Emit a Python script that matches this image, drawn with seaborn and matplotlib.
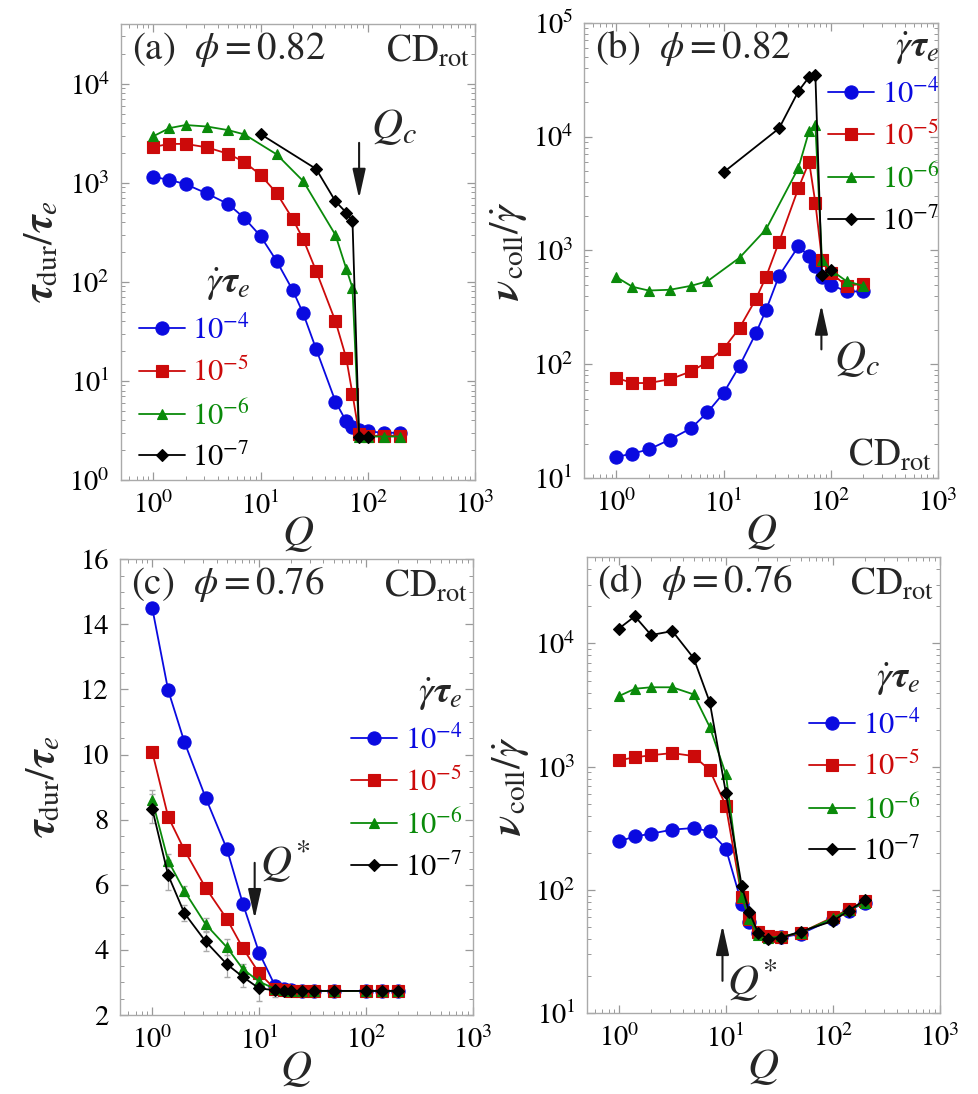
import numpy as np
import pandas as pd
import matplotlib
matplotlib.use("Agg")
import matplotlib.pyplot as plt
import matplotlib.ticker as mticker
import seaborn as sns

# ---------------- data ----------------
rates = [r"$10^{-4}$", r"$10^{-5}$", r"$10^{-6}$", r"$10^{-7}$"]

# phi = 0.82 (panels a, b)
Q_ab = [1, 1.41, 2, 3.16, 5, 7.07, 10, 14.1, 20, 25, 33, 50, 63, 72, 83, 100, 141, 200]
Q_ab_g = [1, 1.41, 2, 3.16, 5, 7.07, 14.1, 25, 50, 63, 72, 83, 100, 141, 200]
Q_ab_k = [10, 33, 50, 63, 72, 83, 100]

tau_a_4 = [1150, 1070, 970, 780, 610, 440, 290, 163, 82, 48, 21, 6.2, 3.9, 3.4, 3.2, 3.1, 3.0, 3.0]
tau_a_5 = [2300, 2470, 2470, 2280, 1960, 1620, 1200, 790, 430, 270, 129, 40, 17, 7.4, 2.9, 2.8, 2.8, 2.8]
tau_a_6 = [2950, 3560, 3830, 3700, 3400, 3080, 1940, 1040, 297, 136, 87, 2.75, 2.75, 2.75, 2.75]
tau_a_7 = [3100, 1380, 650, 500, 415, 2.75, 2.75]

nu_b_4 = [15.4, 16.5, 17.9, 21.9, 27.6, 37.9, 56, 97, 187, 302, 600, 1085, 890, 730, 590, 500, 437, 437]
nu_b_5 = [76, 68.6, 68.6, 74, 87, 105, 137, 209, 373, 590, 1190, 3520, 6000, 2620, 830, 635, 490, 510]
nu_b_6 = [583, 480, 445, 452, 490, 537, 863, 1540, 5300, 11200, 12700, 830, 676, 537, 490]
nu_b_7 = [4860, 11800, 25000, 33400, 35000, 605, 676]

# phi = 0.76 (panels c, d)
Q_c = [1, 1.41, 2, 3.16, 5, 7.07, 10, 14.1, 17, 20, 25, 33, 50, 100, 141, 200]
Q_d = [1, 1.41, 2, 3.16, 5, 7.07, 10, 14.1, 16.6, 20, 25, 33, 50, 100, 141, 200]

tau_c_4 = [14.51, 11.98, 10.39, 8.68, 7.10, 5.41, 3.92, 2.90, 2.80, 2.77, 2.75, 2.74, 2.74, 2.74, 2.74, 2.74]
tau_c_5 = [10.09, 8.09, 7.07, 5.91, 4.95, 4.05, 3.29, 2.80, 2.77, 2.75, 2.74, 2.74, 2.74, 2.74, 2.74, 2.74]
tau_c_6 = [8.61, 6.74, 5.81, 4.79, 4.08, 3.41, 3.03, 2.80, 2.76, 2.75, 2.74, 2.74, 2.74, 2.74, 2.74, 2.74]
tau_c_7 = [8.34, 6.30, 5.13, 4.26, 3.56, 3.17, 2.82, 2.76, 2.75, 2.74, 2.74, 2.74, 2.74, 2.74, 2.74, 2.74]
err_c_6 = [0.30, 0.20, 0.15, 0.20, 0.25, 0.15, 0.15, 0.10, 0.05, 0.05, 0.05, 0.05, 0.05, 0.05, 0.05, 0.05]
err_c_7 = [0.45, 0.45, 0.25, 0.30, 0.40, 0.30, 0.40, 0.20, 0.10, 0.05, 0.05, 0.05, 0.05, 0.05, 0.05, 0.05]

nu_d_4 = [248, 272, 286, 309, 318, 299, 217, 77, 55, 44.5, 41.3, 41.3, 44, 58, 68, 79]
nu_d_5 = [1130, 1190, 1240, 1290, 1220, 940, 482, 87, 58.6, 45.3, 42, 41.3, 45, 60, 70, 81]
nu_d_6 = [3740, 4290, 4410, 4410, 3860, 2100, 870, 87, 58, 43, 41, 42, 45, 59, 69, 79]
nu_d_7 = [13200, 16600, 11700, 12600, 7600, 3340, 617, 107, 66, 45, 40, 41, 46, 56, 68, 83]

# ---------------- style ----------------
sns.set_theme(style="ticks")
plt.rcParams.update({
    "font.family": ["STIXGeneral", "DejaVu Serif"],
    "mathtext.fontset": "stix",
    "axes.edgecolor": "#aaaaaa",
    "axes.linewidth": 1.0,
    "xtick.color": "#999999",
    "ytick.color": "#999999",
    "xtick.labelcolor": "black",
    "ytick.labelcolor": "black",
})

colors = ["#0a0ae0", "#cc0a0a", "#0a8a0a", "black"]
markers = ["o", "s", "^", "D"]
msizes = [9.5, 8.5, 7, 6]

fig = plt.figure(figsize=(9.79, 10.94), dpi=100)
axA = fig.add_axes([0.1236, 0.5612, 0.3616, 0.4168])
axB = fig.add_axes([0.5968, 0.5628, 0.3610, 0.4165])
axC = fig.add_axes([0.1226, 0.0722, 0.3603, 0.4166])
axD = fig.add_axes([0.5993, 0.0738, 0.3606, 0.4168])

ARROW = dict(arrowstyle="-|>,head_length=0.9,head_width=0.2", color="k", lw=1.5, mutation_scale=20)


def style_axes(ax, logy=True):
    ax.set_xscale("log")
    if logy:
        ax.set_yscale("log")
        ax.yaxis.set_major_locator(mticker.LogLocator(base=10, numticks=10))
        ax.yaxis.set_minor_locator(mticker.LogLocator(base=10, subs=np.arange(2, 10), numticks=20))
        ax.yaxis.set_minor_formatter(mticker.NullFormatter())
    ax.xaxis.set_major_locator(mticker.LogLocator(base=10, numticks=10))
    ax.xaxis.set_minor_locator(mticker.LogLocator(base=10, subs=np.arange(2, 10), numticks=20))
    ax.xaxis.set_minor_formatter(mticker.NullFormatter())
    ax.set_xlim(0.5, 1000)
    ax.tick_params(which="both", direction="in", top=True, right=True, labelsize=20.5, pad=8)
    ax.tick_params(which="major", length=6, width=0.9)
    ax.tick_params(which="minor", length=3, width=0.7)
    ax.set_xlabel(r"$Q$", fontsize=31, labelpad=-4)


def draw(ax, xs, ys):
    for x, y, c, m, ms, lab in zip(xs, ys, colors, markers, msizes, rates):
        sns.lineplot(x=x, y=y, ax=ax, color=c, marker=m, markersize=ms,
                     markeredgecolor=c, markeredgewidth=0.8, linewidth=1.3,
                     label=lab, estimator=None, sort=False)


def legend(ax, anchor):
    h, l = ax.get_legend_handles_labels()
    leg = ax.legend(h, l, loc="upper left", bbox_to_anchor=anchor, frameon=False,
                    title=r"$\dot{\gamma}\boldsymbol{\tau}_e$", title_fontsize=27,
                    fontsize=22, handlelength=1.5, handletextpad=0.25,
                    labelspacing=0.4, borderpad=0, borderaxespad=0,
                    labelcolor="linecolor", alignment="right")
    return leg


# ---- (a)
style_axes(axA)
draw(axA, [Q_ab, Q_ab, Q_ab_g, Q_ab_k], [tau_a_4, tau_a_5, tau_a_6, tau_a_7])
axA.set_ylim(1, 4e4)
axA.set_ylabel(r"$\boldsymbol{\tau}_{\rm dur}/\boldsymbol{\tau}_e$", fontsize=30, labelpad=6)
legend(axA, (0.05, 0.47))
axA.text(0.03, 0.945, r"(a)  $\phi = 0.82$", transform=axA.transAxes, fontsize=28, va="center", ha="left")
axA.text(0.985, 0.94, r"CD$_{\rm rot}$", transform=axA.transAxes, fontsize=27, va="center", ha="right")
axA.annotate("", xy=(83, 650), xytext=(83, 2700), arrowprops=ARROW)
axA.text(108, 2300, r"$Q_c$", fontsize=31, ha="left", va="bottom")

# ---- (b)
style_axes(axB)
draw(axB, [Q_ab, Q_ab, Q_ab_g, Q_ab_k], [nu_b_4, nu_b_5, nu_b_6, nu_b_7])
axB.set_ylim(10, 1e5)
axB.set_ylabel(r"$\boldsymbol{\nu}_{\rm coll}/\dot{\gamma}$", fontsize=30, labelpad=2)
legend(axB, (0.69, 0.985))
axB.text(0.03, 0.945, r"(b)  $\phi = 0.82$", transform=axB.transAxes, fontsize=28, va="center", ha="left")
axB.text(0.985, 0.05, r"CD$_{\rm rot}$", transform=axB.transAxes, fontsize=27, va="center", ha="right")
axB.annotate("", xy=(82, 352), xytext=(82, 128), arrowprops=ARROW)
axB.text(108, 75, r"$Q_c$", fontsize=31, ha="left", va="bottom")

# ---- (c)
style_axes(axC, logy=False)
axC.errorbar(Q_c, tau_c_6, yerr=err_c_6, fmt="none", ecolor="#aaaaaa", elinewidth=0.9, capsize=2.5, zorder=1)
axC.errorbar(Q_c, tau_c_7, yerr=err_c_7, fmt="none", ecolor="#aaaaaa", elinewidth=0.9, capsize=2.5, zorder=1)
draw(axC, [Q_c, Q_c, Q_c, Q_c], [tau_c_4, tau_c_5, tau_c_6, tau_c_7])
axC.set_ylim(2, 16)
axC.yaxis.set_major_locator(mticker.MultipleLocator(2))
axC.yaxis.set_minor_locator(mticker.MultipleLocator(0.5))
axC.set_ylabel(r"$\boldsymbol{\tau}_{\rm dur}/\boldsymbol{\tau}_e$", fontsize=30, labelpad=12)
legend(axC, (0.655, 0.745))
axC.text(0.03, 0.945, r"(c)  $\phi = 0.76$", transform=axC.transAxes, fontsize=28, va="center", ha="left")
axC.text(0.985, 0.94, r"CD$_{\rm rot}$", transform=axC.transAxes, fontsize=27, va="center", ha="right")
axC.annotate("", xy=(9.1, 4.87), xytext=(9.1, 6.76), arrowprops=ARROW)
axC.text(10.2, 6.0, r"$Q^{*}$", fontsize=31, ha="left", va="bottom")

# ---- (d)
style_axes(axD)
draw(axD, [Q_d, Q_d, Q_d, Q_d], [nu_d_4, nu_d_5, nu_d_6, nu_d_7])
axD.set_ylim(10, 5e4)
axD.set_ylabel(r"$\boldsymbol{\nu}_{\rm coll}/\dot{\gamma}$", fontsize=30, labelpad=2)
legend(axD, (0.63, 0.775))
axD.text(0.03, 0.945, r"(d)  $\phi = 0.76$", transform=axD.transAxes, fontsize=28, va="center", ha="left")
axD.text(0.985, 0.94, r"CD$_{\rm rot}$", transform=axD.transAxes, fontsize=27, va="center", ha="right")
axD.annotate("", xy=(9.3, 54.5), xytext=(9.3, 17.4), arrowprops=ARROW)
axD.text(10.2, 12.0, r"$Q^{*}$", fontsize=31, ha="left", va="bottom")

fig.savefig("out.png", dpi=100)
